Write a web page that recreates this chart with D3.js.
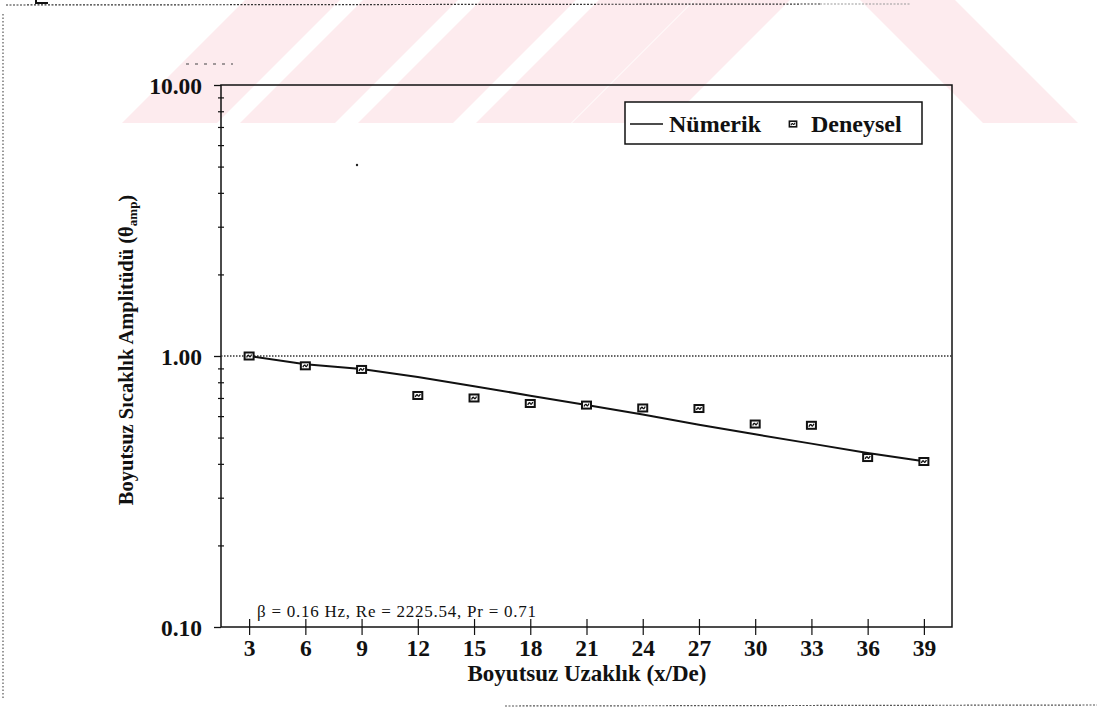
<!DOCTYPE html>
<html>
<head>
<meta charset="utf-8">
<script src="https://cdn.jsdelivr.net/npm/d3@7"></script>
<style>
  html, body { margin: 0; padding: 0; background: #fff; }
  svg { display: block; }
  text { font-family: "Liberation Serif", "Times New Roman", serif; fill: #111; }
</style>
</head>
<body>
<svg id="chart" width="1097" height="708"></svg>
<script>
// Dimensionless distance along the jet (x/De)
const distance = [3, 6, 9, 12, 15, 18, 21, 24, 27, 30, 33, 36, 39];
// Numerical solution of the temperature amplitude
const numerik = [1.000, 0.933, 0.895, 0.836, 0.774, 0.714, 0.659, 0.608, 0.558, 0.514, 0.475, 0.439, 0.409];
// Measured temperature amplitude
const deneysel = [1.000, 0.920, 0.892, 0.715, 0.700, 0.668, 0.659, 0.643, 0.640, 0.561, 0.555, 0.422, 0.408];
// Axis ticks
const xTicks = [3, 6, 9, 12, 15, 18, 21, 24, 27, 30, 33, 36, 39];
const yMajor = [0.1, 1, 10];
const yMinor = [0.2, 0.3, 0.4, 0.5, 0.6, 0.7, 0.8, 0.9, 2, 3, 4, 5, 6, 7, 8, 9];
// Labels
const xTitle = "Boyutsuz Uzaklık (x/De)";
const yTitle = "Boyutsuz Sıcaklık Amplitüdü (θ";
const ySub = "amp";
const note = "β = 0.16 Hz, Re = 2225.54, Pr = 0.71";
const legendNames = ["Nümerik", "Deneysel"];

const svg = d3.select("#chart");
const plotL = 221, plotR = 952, plotT = 85, plotB = 627;

const x = d3.scaleLinear().domain([1.5, 40.5]).range([plotL, plotR]);
const y = d3.scaleLog().domain([0.1, 10]).range([plotB, plotT]);

// light background stamp behind the figure: slanted bands and an open "A"
const stamp = svg.append("g").attr("fill", "#fdebee");
const bandTops = [245, 363, 481, 599];
bandTops.forEach(t => stamp.append("path")
  .attr("d", `M${t},0 L${t + 95},0 L${t - 28},123 L${t - 123},123 Z`));
stamp.append("path").attr("d", "M695,0 L790,0 L667,123 L572,123 Z");
stamp.append("path").attr("d", "M860,0 L955,0 L1078,123 L983,123 Z");

// page marks of the sheet
const page = svg.append("g").attr("fill", "none").attr("stroke-width", 1.2);
page.append("line").attr("x1", 6).attr("x2", 820).attr("y1", 5).attr("y2", 4)
  .attr("stroke", "#333").attr("stroke-dasharray", "2,1.5");
page.append("line").attr("x1", 820).attr("x2", 910).attr("y1", 4).attr("y2", 4)
  .attr("stroke", "#999").attr("stroke-dasharray", "2,1.5");
page.append("line").attr("x1", 3).attr("x2", 3).attr("y1", 14).attr("y2", 700)
  .attr("stroke", "#555").attr("stroke-dasharray", "1.5,2");
page.append("line").attr("x1", 505).attr("x2", 1097).attr("y1", 706).attr("y2", 705)
  .attr("stroke", "#555").attr("stroke-dasharray", "2,1.5");
page.append("path").attr("d", "M36,0 L36,3 L48,3").attr("stroke", "#111").attr("stroke-width", 2);
page.append("line").attr("x1", 186).attr("x2", 233).attr("y1", 64).attr("y2", 64)
  .attr("stroke", "#444").attr("stroke-dasharray", "3,6");
page.append("circle").attr("cx", 357).attr("cy", 165).attr("r", 1.2).attr("fill", "#222").attr("stroke", "none");

// plot frame
svg.append("rect").attr("x", plotL).attr("y", plotT)
  .attr("width", plotR - plotL).attr("height", plotB - plotT)
  .attr("fill", "none").attr("stroke", "#111").attr("stroke-width", 1.5);

// reference line at unit amplitude
svg.append("line").attr("x1", plotL).attr("x2", plotR)
  .attr("y1", y(1)).attr("y2", y(1))
  .attr("stroke", "#333").attr("stroke-width", 1.3).attr("stroke-dasharray", "1.5,1.5");

// x axis with ticks crossing the frame
const xAxis = svg.append("g").attr("transform", `translate(0,${plotB})`)
  .call(d3.axisBottom(x).tickValues(xTicks).tickSize(8).tickFormat(d3.format("d")));
xAxis.select(".domain").remove();
xAxis.selectAll(".tick line").attr("y1", -8).attr("y2", 8).attr("stroke", "#111").attr("stroke-width", 1.2);
xAxis.selectAll(".tick text").attr("y", 29).attr("dy", 0)
  .style("font-family", "Liberation Serif").style("font-weight", "bold").style("font-size", "23.5px").attr("fill", "#111");

// y axis, major ticks with labels
const yAxis = svg.append("g").attr("transform", `translate(${plotL},0)`)
  .call(d3.axisLeft(y).tickValues(yMajor).tickSize(7).tickPadding(12).tickFormat(d3.format(".2f")));
yAxis.select(".domain").remove();
yAxis.selectAll(".tick line").attr("stroke", "#111").attr("stroke-width", 1.3);
yAxis.selectAll(".tick text").attr("dy", "0.38em")
  .style("font-family", "Liberation Serif").style("font-weight", "bold").style("font-size", "23.5px").attr("fill", "#111");

// y axis minor ticks
const yMin = svg.append("g").attr("transform", `translate(${plotL},0)`)
  .call(d3.axisLeft(y).tickValues(yMinor).tickSize(3).tickFormat(""));
yMin.select(".domain").remove();
yMin.selectAll(".tick line").attr("x1", -3).attr("x2", 3).attr("stroke", "#111").attr("stroke-width", 1.2);

// numerical solution
svg.append("path")
  .datum(distance.map((d, i) => [d, numerik[i]]))
  .attr("fill", "none").attr("stroke", "#111").attr("stroke-width", 2)
  .attr("d", d3.line().x(d => x(d[0])).y(d => y(d[1])));

// experimental markers
function marker(g) {
  g.append("rect").attr("x", -4.5).attr("y", -3.5).attr("width", 9).attr("height", 7)
    .attr("fill", "#fff").attr("stroke", "#111").attr("stroke-width", 2);
  g.append("path").attr("d", "M-2.5,1.5 Q-1,-2 0,0 T2.5,-1.5")
    .attr("fill", "none").attr("stroke", "#111").attr("stroke-width", 1.3);
}
svg.append("g").selectAll("g.pt")
  .data(distance.map((d, i) => [d, deneysel[i]]))
  .join("g").attr("class", "pt")
  .attr("transform", d => `translate(${x(d[0])},${y(d[1])})`)
  .each(function () { marker(d3.select(this)); });

// axis titles
svg.append("text").attr("x", 587).attr("y", 681).attr("text-anchor", "middle")
  .style("font-weight", "bold").style("font-size", "23px").text(xTitle);

const yt = svg.append("text").attr("transform", "translate(133,350) rotate(-90)")
  .attr("text-anchor", "middle").style("font-weight", "bold").style("font-size", "20.5px");
yt.append("tspan").text(yTitle);
yt.append("tspan").attr("dy", 4).style("font-size", "13px").text(ySub);
yt.append("tspan").attr("dy", -4).text(")");

// flow parameters
svg.append("text").attr("x", 257).attr("y", 617)
  .style("font-size", "17px").style("letter-spacing", "0.75px").text(note);

// legend
const lg = svg.append("g");
lg.append("rect").attr("x", 625).attr("y", 102).attr("width", 297).attr("height", 42)
  .attr("fill", "#fff").attr("stroke", "#111").attr("stroke-width", 1.5);
lg.append("line").attr("x1", 630).attr("x2", 663).attr("y1", 124).attr("y2", 124)
  .attr("stroke", "#111").attr("stroke-width", 1.6);
lg.append("text").attr("x", 669).attr("y", 131.5)
  .style("font-weight", "bold").style("font-size", "24px").text(legendNames[0]);
marker(lg.append("g").attr("transform", "translate(793,124) scale(0.8)"));
lg.append("text").attr("x", 811).attr("y", 131.5)
  .style("font-weight", "bold").style("font-size", "24px").text(legendNames[1]);
</script>
</body>
</html>
